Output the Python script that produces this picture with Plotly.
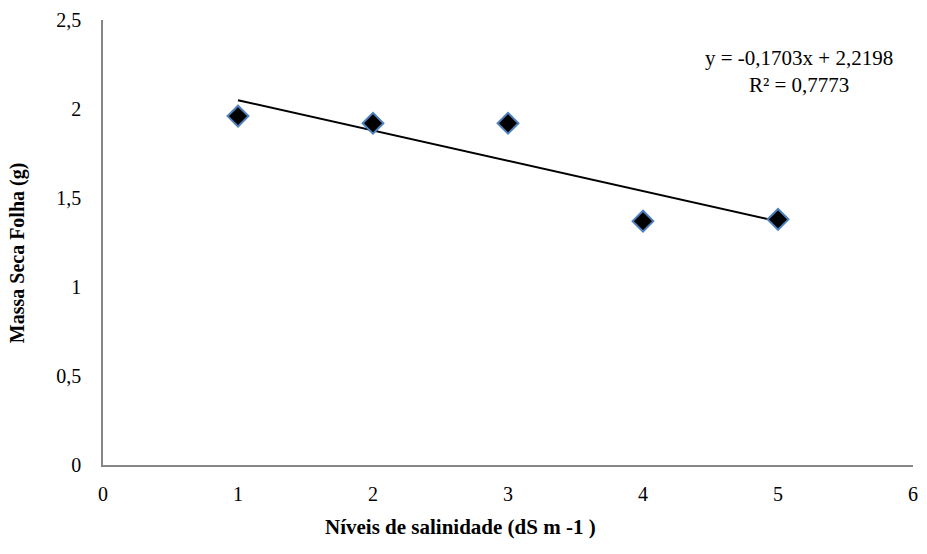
import plotly.graph_objects as go

# Data
salinity = [1, 2, 3, 4, 5]
massa_seca_folha = [1.96, 1.92, 1.92, 1.37, 1.38]
trend_slope = -0.1703
trend_intercept = 2.2198
trend_r2 = 0.7773
trend_x = [1, 5]
trend_y = [trend_slope * x + trend_intercept for x in trend_x]

x_ticks = [0, 1, 2, 3, 4, 5, 6]
y_ticks = [0, 0.5, 1, 1.5, 2, 2.5]
y_tick_labels = ["0", "0,5", "1", "1,5", "2", "2,5"]

font_family = "Liberation Serif, Times New Roman, serif"

def fmt(v):
    return str(v).replace(".", ",")

fig = go.Figure()
fig.add_trace(go.Scatter(
    x=trend_x, y=trend_y, mode="lines",
    line=dict(color="black", width=2), showlegend=False, hoverinfo="skip"))
fig.add_trace(go.Scatter(
    x=salinity, y=massa_seca_folha, mode="markers",
    marker=dict(symbol="diamond", size=16, color="black",
                line=dict(color="#4F81BD", width=2)),
    showlegend=False))

fig.update_layout(
    width=927, height=554,
    margin=dict(l=103, r=9, t=20, b=89),
    paper_bgcolor="white", plot_bgcolor="white",
    font=dict(family=font_family, size=20, color="black"),
    separators=", ",
    xaxis=dict(range=[0, 6], tickvals=x_ticks, showgrid=False, zeroline=False,
               showline=True, linecolor="#868686", linewidth=1.5,
               ticks="", ticklabelstandoff=10, ticklabeloverflow="allow",
               tickfont=dict(size=20, family=font_family)),
    yaxis=dict(range=[0, 2.5], tickvals=y_ticks, ticktext=y_tick_labels,
               showgrid=False, zeroline=False,
               showline=True, linecolor="#868686", linewidth=1.5,
               ticks="", ticklabelstandoff=16, ticklabeloverflow="allow",
               tickfont=dict(size=20, family=font_family)),
    annotations=[
        dict(text=f"y = {fmt(trend_slope)}x + {fmt(trend_intercept)}<br>R² = {fmt(trend_r2)}",
             xref="x", yref="y", x=5.153, y=2.213, showarrow=False,
             align="center", xanchor="center", yanchor="middle",
             font=dict(size=21, family=font_family)),
        dict(text="<b>Níveis de salinidade (dS m -1 )</b>",
             xref="paper", yref="paper", x=0.4417, y=0, yshift=-62,
             showarrow=False, xanchor="center", yanchor="middle",
             font=dict(size=21, family=font_family)),
        dict(text="<b>Massa Seca Folha (g)</b>",
             xref="paper", yref="paper", x=0, y=0.476, xshift=-86,
             textangle=-90, showarrow=False, xanchor="center", yanchor="middle",
             font=dict(size=20, family=font_family)),
    ],
)

fig.write_html("out.html", config={"displayModeBar": False},
               post_script="document.body.style.margin='0';")
